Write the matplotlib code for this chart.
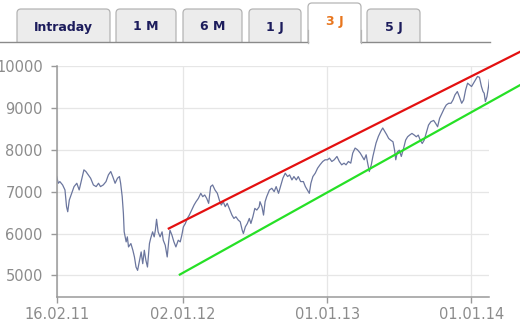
import numpy as np
import matplotlib.pyplot as plt
import pandas as pd
from matplotlib.patches import FancyBboxPatch, Rectangle

# index close
dates = [
    "2011-02-16", "2011-02-20", "2011-02-24", "2011-03-03", "2011-03-09", "2011-03-13",
    "2011-03-16", "2011-03-20", "2011-03-26", "2011-04-01", "2011-04-08", "2011-04-14",
    "2011-04-20", "2011-04-26", "2011-05-01", "2011-05-07", "2011-05-13", "2011-05-20",
    "2011-05-27", "2011-06-02", "2011-06-07", "2011-06-14", "2011-06-21", "2011-06-27",
    "2011-07-03", "2011-07-08", "2011-07-14", "2011-07-20", "2011-07-25", "2011-07-28",
    "2011-08-01", "2011-08-04", "2011-08-06", "2011-08-11", "2011-08-14", "2011-08-17",
    "2011-08-23", "2011-08-28", "2011-09-01", "2011-09-05", "2011-09-09", "2011-09-14",
    "2011-09-18", "2011-09-22", "2011-09-26", "2011-09-30", "2011-10-04", "2011-10-09",
    "2011-10-12", "2011-10-17", "2011-10-21", "2011-10-24", "2011-10-27", "2011-10-31",
    "2011-11-05", "2011-11-10", "2011-11-13", "2011-11-18", "2011-11-23", "2011-11-27",
    "2011-11-30", "2011-12-05", "2011-12-10", "2011-12-15", "2011-12-21", "2011-12-26",
    "2011-12-30", "2012-01-03", "2012-01-08", "2012-01-13", "2012-01-18", "2012-01-24",
    "2012-01-30", "2012-02-04", "2012-02-10", "2012-02-16", "2012-02-21", "2012-02-26",
    "2012-03-02", "2012-03-07", "2012-03-12", "2012-03-17", "2012-03-23", "2012-03-29",
    "2012-04-03", "2012-04-08", "2012-04-13", "2012-04-18", "2012-04-23", "2012-04-30",
    "2012-05-05", "2012-05-10", "2012-05-15", "2012-05-21", "2012-05-26", "2012-05-31",
    "2012-06-03", "2012-06-08", "2012-06-13", "2012-06-18", "2012-06-22", "2012-06-27",
    "2012-07-02", "2012-07-07", "2012-07-13", "2012-07-15", "2012-07-20", "2012-07-24",
    "2012-07-28", "2012-08-01", "2012-08-08", "2012-08-14", "2012-08-20", "2012-08-25",
    "2012-08-31", "2012-09-06", "2012-09-11", "2012-09-17", "2012-09-23", "2012-09-28",
    "2012-10-04", "2012-10-09", "2012-10-15", "2012-10-20", "2012-10-26", "2012-11-02",
    "2012-11-07", "2012-11-12", "2012-11-17", "2012-11-21", "2012-11-26", "2012-12-02",
    "2012-12-08", "2012-12-14", "2012-12-21", "2012-12-27", "2013-01-02", "2013-01-07",
    "2013-01-13", "2013-01-19", "2013-01-26", "2013-02-01", "2013-02-07", "2013-02-13",
    "2013-02-18", "2013-02-24", "2013-03-02", "2013-03-07", "2013-03-13", "2013-03-19",
    "2013-03-26", "2013-03-31", "2013-04-05", "2013-04-10", "2013-04-13", "2013-04-18",
    "2013-04-23", "2013-04-27", "2013-05-01", "2013-05-05", "2013-05-11", "2013-05-17",
    "2013-05-22", "2013-05-27", "2013-06-01", "2013-06-06", "2013-06-11", "2013-06-17",
    "2013-06-21", "2013-06-24", "2013-06-28", "2013-07-03", "2013-07-08", "2013-07-14",
    "2013-07-19", "2013-07-24", "2013-07-29", "2013-08-04", "2013-08-10", "2013-08-15",
    "2013-08-20", "2013-08-25", "2013-08-30", "2013-09-04", "2013-09-09", "2013-09-15",
    "2013-09-21", "2013-09-28", "2013-10-03", "2013-10-08", "2013-10-13", "2013-10-19",
    "2013-10-25", "2013-10-30", "2013-11-05", "2013-11-11", "2013-11-16", "2013-11-21",
    "2013-11-27", "2013-12-02", "2013-12-08", "2013-12-13", "2013-12-18", "2013-12-23",
    "2013-12-28", "2014-01-02", "2014-01-07", "2014-01-12", "2014-01-17", "2014-01-22",
    "2014-01-27", "2014-01-31", "2014-02-03", "2014-02-06", "2014-02-10", "2014-02-14",
    "2014-02-16",
]
values = [
    7360, 7200, 7240, 7160, 7040, 6640,
    6520, 6800, 6960, 7120, 7200, 7040,
    7280, 7520, 7480, 7400, 7320, 7160,
    7120, 7200, 7120, 7160, 7240, 7400,
    7480, 7360, 7200, 7320, 7360, 7200,
    6880, 6480, 6040, 5800, 5920, 5680,
    5760, 5600, 5440, 5200, 5120, 5360,
    5560, 5280, 5600, 5360, 5200, 5760,
    5880, 6040, 5920, 6080, 6340, 6040,
    5920, 6040, 5840, 5720, 5440, 5840,
    6080, 5960, 5800, 5680, 5840, 5800,
    5960, 6160, 6240, 6360, 6440, 6560,
    6680, 6760, 6840, 6960, 6880, 6920,
    6840, 6720, 7120, 7160, 7040, 6960,
    6800, 6680, 6760, 6640, 6720, 6560,
    6440, 6360, 6400, 6320, 6280, 6080,
    6000, 6160, 6240, 6360, 6240, 6400,
    6600, 6560, 6640, 6760, 6640, 6440,
    6760, 6880, 7040, 7080, 7000, 7120,
    6960, 7160, 7320, 7440, 7360, 7400,
    7280, 7360, 7280, 7360, 7240, 7240,
    7120, 7040, 6960, 7200, 7360, 7440,
    7560, 7640, 7720, 7760, 7760, 7800,
    7720, 7760, 7840, 7720, 7640, 7680,
    7640, 7720, 7680, 7920, 8040, 8000,
    7920, 7840, 7760, 7880, 7720, 7480,
    7640, 7840, 8000, 8160, 8320, 8440,
    8520, 8440, 8360, 8270, 8230, 8190,
    7990, 7760, 7950, 7990, 7840, 8040,
    8230, 8310, 8350, 8390, 8350, 8310,
    8350, 8230, 8150, 8230, 8390, 8590,
    8670, 8700, 8630, 8550, 8750, 8870,
    8990, 9070, 9110, 9110, 9190, 9310,
    9390, 9270, 9110, 9190, 9430, 9590,
    9550, 9510, 9590, 9670, 9750, 9730,
    9510, 9390, 9350, 9150, 9270, 9510,
    9670,
]

# trend channel
red_dates = ["2011-11-27", "2014-05-05"]
red_values = [6120, 10340]
green_dates = ["2011-12-25", "2014-05-05"]
green_values = [5020, 9545]

tick_dates = ["2011-02-16", "2012-01-02", "2013-01-01", "2014-01-01"]
tick_labels = ["16.02.11", "02.01.12", "01.01.13", "01.01.14"]
y_ticks = [5000, 6000, 7000, 8000, 9000, 10000]

tab_labels = ["Intraday", "1 M", "6 M", "1 J", "3 J", "5 J"]
active_tab = "3 J"

fig = plt.figure(figsize=(5.2, 3.3), dpi=100)

# tab bar (drawn in pixel coords on a full-figure overlay)
bar = fig.add_axes([0, 0, 1, 1])
bar.set_xlim(0, 520)
bar.set_ylim(330, 0)
bar.axis("off")
tab_spans = [(17, 110), (116, 176), (183, 242), (249, 301), (308, 361), (367, 420)]
for label, (x0, x1) in zip(tab_labels, tab_spans):
    active = label == active_tab
    top = 3 if active else 9
    box = FancyBboxPatch((x0, top), x1 - x0, 48 - top,
                         boxstyle="round,pad=0,rounding_size=4",
                         fc="white" if active else "#ececec",
                         ec="#b4b4b4", lw=0.9)
    bar.add_patch(box)
    bar.text((x0 + x1) / 2, 27 if not active else 22, label,
             ha="center", va="center", fontsize=9, fontweight="bold",
             color="#e8761e" if active else "#1c1c5c")
# hide lower part of tabs, then base line
bar.add_patch(Rectangle((0, 42.5), 520, 10, fc="white", ec="none", zorder=3))
bar.plot([0, 308], [42, 42], color="#8a8a8a", lw=1.0, zorder=4)
bar.plot([361, 490], [42, 42], color="#8a8a8a", lw=1.0, zorder=4)
bar.plot([308, 308], [30, 42.5], color="#b4b4b4", lw=0.9, zorder=4)
bar.plot([361, 361], [30, 42.5], color="#b4b4b4", lw=0.9, zorder=4)

ax = fig.add_axes([0.109, 0.1, 0.832, 0.70])
x = pd.to_datetime(dates)
ax.plot(x, values, color="#6b769e", lw=0.9)
ax.plot(pd.to_datetime(red_dates), red_values, color="#e31010", lw=1.6, clip_on=False)
ax.plot(pd.to_datetime(green_dates), green_values, color="#26e026", lw=1.6, clip_on=False)

ax.set_xlim(pd.Timestamp("2011-02-16"), pd.Timestamp("2014-02-16"))
ax.set_ylim(4484, 10000)
ax.set_xticks(pd.to_datetime(tick_dates))
ax.set_xticklabels(tick_labels)
ax.set_yticks(y_ticks)
ax.set_yticklabels([str(v) for v in y_ticks])
ax.grid(True, color="#e6e6e6", lw=0.9)
ax.set_axisbelow(True)
for s in ["top", "right"]:
    ax.spines[s].set_visible(False)
for s in ["left", "bottom"]:
    ax.spines[s].set_color("#9a9a9a")
    ax.spines[s].set_linewidth(1.1)
ax.tick_params(colors="#9a9a9a", labelcolor="#8c8c8c", labelsize=10.5, length=4, width=1)
ax.tick_params(axis="y", pad=6)
ax.tick_params(axis="x", pad=3)

fig.savefig("out.png", dpi=100)
